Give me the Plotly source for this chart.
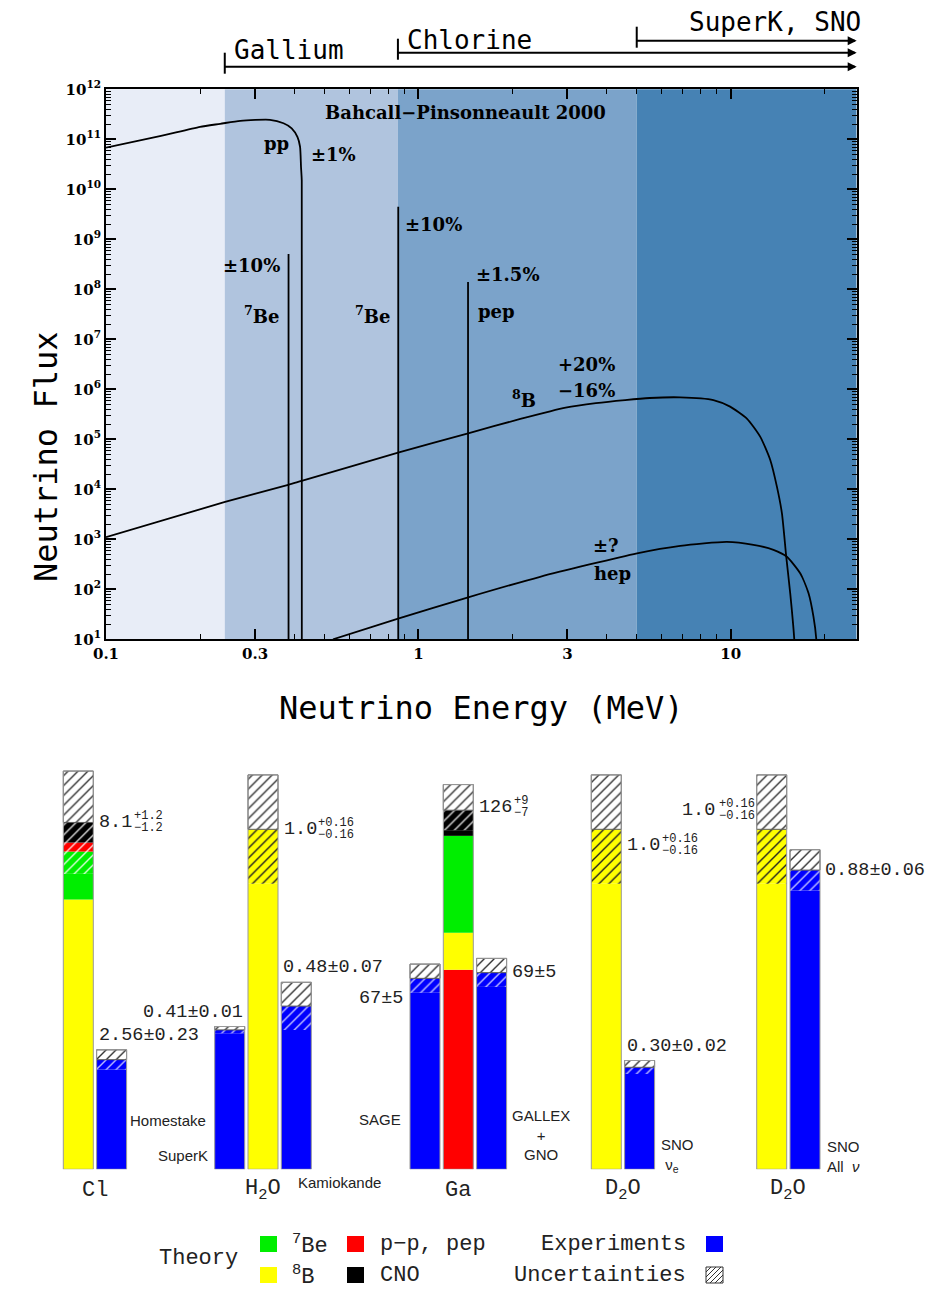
import numpy as np
import plotly.graph_objects as go

# ------------------------------------------------------------------
# DATA
# ------------------------------------------------------------------
# Bahcall-Pinsonneault 2000 solar neutrino spectra (MeV, flux)
pp_energy = [0.100, 0.150, 0.200, 0.232, 0.269, 0.335, 0.370, 0.393, 0.410, 0.418, 0.421, 0.4233, 0.4235]
pp_flux = [6.8e10, 1.17e11, 1.78e11, 2.04e11, 2.34e11, 2.45e11, 2.09e11, 1.66e11, 1.12e11, 7.1e10, 2.8e10, 1.5e10, 3]

b8_energy = [0.100, 0.2405, 0.383, 0.423, 0.861, 1.443, 2.12, 2.96, 3.70, 4.59, 5.50, 6.89, 8.80, 9.95,
             11.26, 12.42, 13.37, 14.05, 14.58, 15.05, 15.50, 15.96, 16.10]
b8_flux = [1.1e3, 5.6e3, 1.23e4, 1.48e4, 5.4e4, 1.32e5, 2.55e5, 4.3e5, 5.3e5, 6.1e5, 6.7e5, 6.9e5, 6.1e5, 4.5e5,
           2.6e5, 1.13e5, 3.9e4, 1.13e4, 3.3e3, 450, 83, 10.5, 3]

hep_energy = [0.533, 0.861, 1.443, 2.453, 5.01, 6.89, 9.72, 11.82, 13.70, 15.12, 16.68, 17.74, 18.40, 18.77, 18.85]
hep_flux = [10, 26, 69, 178, 525, 741, 891, 776, 617, 447, 209, 83, 28, 10.5, 3]

line_names = ["7Be", "7Be", "pep"]
line_energy = [0.384, 0.862, 1.442]
line_flux = [5.1e8, 4.5e9, 1.4e8]

thresholds = [0.24, 0.86, 5.0]
threshold_names = ["Gallium", "Chlorine", "SuperK, SNO"]

x_tick_values = [0.1, 0.3, 1, 3, 10]
x_tick_labels = ["0.1", "0.3", "1", "3", "10"]
y_exponents = list(range(1, 13))

# Bottom panel: theory vs experiment
groups = ["Cl", "H<sub>2</sub>O", "Ga", "D<sub>2</sub>O", "D<sub>2</sub>O"]
group_unit = [7.94, 1.0, 119.3, 1.0, 1.0]          # measured value per unit bar height

cl_parts = ["8B", "7Be", "pp", "CNO"]
cl_values = [6.3, 1.12, 0.21, 0.47]
h2o_parts = ["8B"]
h2o_values = [1.0]
ga_parts = ["pp", "8B", "7Be", "CNO"]
ga_values = [70, 13, 34, 9]
d2o_parts = ["8B"]
d2o_values = [1.0]

theory_err_up = [1.2, 0.16, 9, 0.16, 0.16]
theory_err_dn = [1.2, 0.16, 7, 0.16, 0.16]
theory_labels = ["8.1", "1.0", "126", "1.0", "1.0"]
theory_up_labels = ["+1.2", "+0.16", "+9", "+0.16", "+0.16"]
theory_dn_labels = ["\u22121.2", "\u22120.16", "\u22127", "\u22120.16", "\u22120.16"]

experiments = ["Homestake", "SuperK", "Kamiokande", "SAGE", "GALLEX<br>+<br>GNO",
               "SNO<br> \u03bd<sub>e</sub>", "SNO<br>All  <i>\u03bd</i>"]
exp_group = [0, 1, 1, 2, 2, 3, 4]
exp_value = [2.56, 0.41, 0.48, 67, 69, 0.30, 0.88]
exp_err = [0.23, 0.01, 0.07, 5, 5, 0.02, 0.06]
exp_labels = ["2.56\u00b10.23", "0.41\u00b10.01", "0.48\u00b10.07", "67\u00b15", "69\u00b15",
              "0.30\u00b10.02", "0.88\u00b10.06"]

# ------------------------------------------------------------------
# LAYOUT / STYLE
# ------------------------------------------------------------------
W, H = 926, 1289


def fx(p):
    return p / W


def fy(p):
    return 1 - p / H


X_MIN, X_MAX = 0.1, 25.3
MONO = "Liberation Mono"
TITLE_FONT = "DejaVu Sans Mono"
SERIF = "DejaVu Serif"

band_colors = ["#e8edf7", "#b0c4de", "#7ba3ca", "#4682b4"]
part_color = {"8B": "#ffff00", "7Be": "#00ee00", "pp": "#ff0000", "CNO": "#000000"}
part_hatch = {"8B": "#222222", "7Be": "rgba(255,255,255,0.85)", "pp": "rgba(255,255,255,0.85)",
              "CNO": "rgba(255,255,255,0.85)"}
BLUE = "#0000ff"
OUTLINE = "#999999"

group_x = [78.3, 263.0, 458.3, 606.3, 771.7]   # theory bar centres (panel px units)
slot = 33.3
bar_w = 30
exp_side = [1, -1, 1, -1, 1, 1, 1]

fig = go.Figure()

# ---------------- top panel: spectra ----------------
edges = [X_MIN] + thresholds + [X_MAX]
for i, c in enumerate(band_colors):
    fig.add_shape(type="rect", xref="x", yref="y domain", x0=edges[i], x1=edges[i + 1], y0=0, y1=1,
                  fillcolor=c, line_width=0, layer="below")

curve_line = dict(color="black", width=1.8, shape="spline", smoothing=0.6)
for e, f in [(pp_energy, pp_flux), (b8_energy, b8_flux), (hep_energy, hep_flux)]:
    fig.add_trace(go.Scatter(x=e, y=f, mode="lines", line=curve_line, xaxis="x", yaxis="y",
                             showlegend=False, hoverinfo="skip"))
for e, f in zip(line_energy, line_flux):
    fig.add_trace(go.Scatter(x=[e, e], y=[1, f], mode="lines", line=dict(color="black", width=1.8),
                             xaxis="x", yaxis="y", showlegend=False, hoverinfo="skip"))

minor_x = [0.2, 0.4, 0.5, 0.6, 0.7, 0.8, 0.9, 2, 4, 5, 6, 7, 8, 9, 20]
minor_y = [m * 10 ** k for k in range(1, 12) for m in range(2, 10)]
tickfont = dict(family=SERIF, size=15, color="black", weight="bold")

fig.update_layout(
    template="none",
    width=W, height=H, margin=dict(l=0, r=0, t=0, b=0, pad=0, autoexpand=False),
    paper_bgcolor="white", plot_bgcolor="white", barmode="overlay", showlegend=False,
    xaxis=dict(type="log", domain=[fx(106), fx(856.7)], range=[np.log10(X_MIN), np.log10(X_MAX)],
               anchor="y", automargin=False, tickmode="array", tickvals=x_tick_values,
               ticktext=x_tick_labels,
               ticks="inside", ticklen=10, tickwidth=1.5, tickcolor="black",
               minor=dict(tickmode="array", tickvals=minor_x, ticks="inside", ticklen=5,
                          tickwidth=1.2, tickcolor="black", showgrid=False),
               showline=True, linecolor="black", linewidth=2, mirror="allticks",
               showgrid=False, zeroline=False, tickfont=tickfont),
    yaxis=dict(type="log", domain=[fy(639.3), fy(89.3)], range=[1, 12], anchor="x", automargin=False,
               tickmode="array", tickvals=[10 ** k for k in y_exponents],
               ticktext=[f"10<sup>{k}</sup>" for k in y_exponents],
               ticks="inside", ticklen=10, tickwidth=1.5, tickcolor="black",
               minor=dict(tickmode="array", tickvals=minor_y, ticks="inside", ticklen=5,
                          tickwidth=1, tickcolor="black", showgrid=False),
               showline=True, linecolor="black", linewidth=2, mirror="allticks",
               showgrid=False, zeroline=False, tickfont=tickfont),
    xaxis2=dict(domain=[0, 1], range=[0, W], anchor="y2", visible=False, fixedrange=True,
                automargin=False),
    yaxis2=dict(domain=[fy(1169.3), fy(760)], range=[0, (1169.3 - 760) / 340], anchor="x2",
                visible=False, fixedrange=True, automargin=False),
)

# header brackets
header_levels = [66.7, 52.7, 40.7]
header_text_pos = [(232, 50, "left"), (405, 40, "left"), (863, 22, "right")]
for thr, name, yl, (tx, ty, anc) in zip(thresholds, threshold_names, header_levels, header_text_pos):
    fig.add_shape(type="line", xref="x", yref="paper", x0=thr, x1=thr, y0=fy(yl - 14), y1=fy(yl + 7),
                  line=dict(color="black", width=2))
    fig.add_shape(type="line", xref="x", yref="paper", x0=thr, x1=X_MAX * 0.985, y0=fy(yl), y1=fy(yl),
                  line=dict(color="black", width=2))
    fig.add_annotation(xref="x domain", yref="paper", x=1, y=fy(yl), ax=-10, ay=0, text="",
                       showarrow=True, arrowhead=2, arrowsize=0.9, arrowwidth=2, arrowcolor="black")
    fig.add_annotation(xref="paper", yref="paper", x=fx(tx), y=fy(ty), text=name, showarrow=False,
                       xanchor=anc, yanchor="middle", font=dict(family=TITLE_FONT, size=26, color="black"))

# spectrum annotations
spec_notes = [
    ("Bahcall\u2212Pinsonneault 2000", 465, 113),
    ("pp", 276, 143), ("\u00b11%", 333, 155),
    ("\u00b110%", 251, 266), ("<sup>7</sup>Be", 261, 315),
    ("<sup>7</sup>Be", 372, 315), ("\u00b110%", 433, 225),
    ("\u00b11.5%", 508, 275), ("pep", 496, 311),
    ("+20%", 586, 365), ("\u221216%", 586, 390), ("<sup>8</sup>B", 524, 399),
    ("\u00b1?", 606, 546), ("hep", 612, 573),
]
for t, x, y in spec_notes:
    fig.add_annotation(xref="paper", yref="paper", x=fx(x), y=fy(y), text=t, showarrow=False,
                       xanchor="center", yanchor="middle",
                       font=dict(family=SERIF, size=18, color="black", weight="bold"))

fig.add_annotation(xref="paper", yref="paper", x=fx(25), y=fy(330), text="Neutrino Flux", textangle=-90,
                   showarrow=False, font=dict(family=TITLE_FONT, size=32, color="black"))
fig.add_annotation(xref="paper", yref="paper", x=fx(481), y=fy(708), text="Neutrino Energy (MeV)",
                   showarrow=False, font=dict(family=TITLE_FONT, size=32, color="black"))


# ---------------- bottom panel: bars ----------------
def seg(xc, lo, hi, color, hatch=None, line_color=None):
    marker = dict(color=color, line=dict(width=1 if line_color else 0, color=line_color or color))
    if hatch:
        marker["pattern"] = dict(shape="/", fgcolor=hatch, bgcolor=color, size=7, solidity=0.2,
                                 fillmode="replace")
    fig.add_trace(go.Bar(x=[xc], y=[hi - lo], base=[lo], width=bar_w, marker=marker,
                         xaxis="x2", yaxis="y2", showlegend=False, hoverinfo="skip"))


def outline(xc, lo, hi):
    fig.add_trace(go.Bar(x=[xc], y=[hi - lo], base=[lo], width=bar_w,
                         marker=dict(color="rgba(0,0,0,0)", line=dict(width=1, color=OUTLINE)),
                         xaxis="x2", yaxis="y2", showlegend=False, hoverinfo="skip"))


parts_by_group = [(cl_parts, cl_values), (h2o_parts, h2o_values), (ga_parts, ga_values),
                  (d2o_parts, d2o_values), (d2o_parts, d2o_values)]
theory_central = []
for g, (parts, vals) in enumerate(parts_by_group):
    xc, u = group_x[g], group_unit[g]
    central = sum(vals)
    lower = central - theory_err_dn[g]
    upper = central + theory_err_up[g]
    theory_central.append(central / u)
    a = 0
    for p, v in zip(parts, vals):
        b = a + v
        if a < lower:
            seg(xc, a / u, min(b, lower) / u, part_color[p])
        if b > lower:
            seg(xc, max(a, lower) / u, b / u, part_color[p], part_hatch[p])
        a = b
    seg(xc, central / u, upper / u, "white", "#333333", "#555555")
    outline(xc, 0, upper / u)

exp_x = []
for i, g in enumerate(exp_group):
    xc = group_x[g] + exp_side[i] * slot
    exp_x.append(xc)
    u = group_unit[g]
    v, e = exp_value[i], exp_err[i]
    seg(xc, 0, (v - e) / u, BLUE)
    seg(xc, (v - e) / u, v / u, BLUE, "rgba(255,255,255,0.75)")
    seg(xc, v / u, (v + e) / u, "white", "#333333", "#555555")
    outline(xc, 0, (v + e) / u)

NUM = 18.5
SUP = 12
CW, SCW = 0.6 * NUM, 0.6 * SUP
num_font = dict(family=MONO, size=NUM, color="#222222")
sup_font = dict(family=MONO, size=SUP, color="#222222")

# theory value labels (value with stacked +/- errors)
theory_label_side = ["right", "right", "right", "right", "left"]
theory_label_dy = [0, 0, 3, -16, 19]
for g in range(5):
    y = theory_central[g]
    dy = theory_label_dy[g]
    if theory_label_side[g] == "right":
        x0 = group_x[g] + bar_w / 2 + 4
        xs = x0 + len(theory_labels[g]) * CW + 1
        fig.add_annotation(xref="x2", yref="y2", x=x0, y=y, yshift=dy, text=theory_labels[g],
                           xanchor="left", yanchor="middle", showarrow=False, font=num_font)
        for t, sh in [(theory_up_labels[g], 6), (theory_dn_labels[g], -6)]:
            fig.add_annotation(xref="x2", yref="y2", x=xs, y=y, yshift=dy + sh, text=t,
                               xanchor="left", yanchor="middle", showarrow=False, font=sup_font)
    else:
        xr = group_x[g] - bar_w / 2 - 3
        xm = xr - max(len(theory_up_labels[g]), len(theory_dn_labels[g])) * SCW - 1
        fig.add_annotation(xref="x2", yref="y2", x=xm, y=y, yshift=dy, text=theory_labels[g],
                           xanchor="right", yanchor="middle", showarrow=False, font=num_font)
        for t, sh in [(theory_up_labels[g], 6), (theory_dn_labels[g], -6)]:
            fig.add_annotation(xref="x2", yref="y2", x=xm, y=y, yshift=dy + sh, text=t,
                               xanchor="left", yanchor="middle", showarrow=False, font=sup_font)

# experiment value labels
exp_label_place = ["above-left", "above-right", "above-left", "left", "right", "above-left", "right"]
for i, place in enumerate(exp_label_place):
    g = exp_group[i]
    u = group_unit[g]
    xc = exp_x[i]
    top = (exp_value[i] + exp_err[i]) / u
    mid = exp_value[i] / u
    if place == "above-left":
        kw = dict(x=xc - bar_w / 2, y=top, xanchor="left", yanchor="bottom", yshift=2)
    elif place == "above-right":
        kw = dict(x=xc + bar_w / 2, y=top, xanchor="right", yanchor="bottom", yshift=2)
    elif place == "left":
        kw = dict(x=xc - bar_w / 2 - 5, y=mid, xanchor="right", yanchor="middle", yshift=-20)
    else:
        kw = dict(x=xc + bar_w / 2 + 3, y=mid, xanchor="left", yanchor="middle", yshift=0)
    fig.add_annotation(xref="x2", yref="y2", text=exp_labels[i], showarrow=False, font=num_font, **kw)

# detector names
det_font = dict(family="Liberation Sans", size=15, color="#222222")
det_place = [
    (exp_x[0] + bar_w / 2 + 1, "left", 49),
    (exp_x[1] - bar_w / 2 - 5, "right", 14),
    (exp_x[2], "left", -13),
    (exp_x[3] - bar_w / 2 - 7, "right", 50),
    (exp_x[4] + bar_w / 2 + 34, "center", 34),
    (exp_x[5] + bar_w / 2 + 4, "left", 14),
    (exp_x[6] + bar_w / 2 + 5, "left", 13),
]
for name, (x, anc, dy) in zip(experiments, det_place):
    fig.add_annotation(xref="x2", yref="y2", x=x, y=0, yshift=dy, text=name, showarrow=False,
                       xanchor=anc, yanchor="middle", align=anc if anc != "center" else "center",
                       font=det_font)

# category labels
cat_offset = [0.5, 0, 0, 0.5, 0.5]
for g, name in enumerate(groups):
    fig.add_annotation(xref="x2", yref="y2", x=group_x[g] + cat_offset[g] * slot, y=0, yshift=-21,
                       text=name, showarrow=False, xanchor="center", yanchor="middle",
                       font=dict(family=MONO, size=22, color="#222222"))

# ---------------- legend ----------------
leg_font = dict(family=MONO, size=22, color="#222222")
fig.add_annotation(xref="paper", yref="paper", x=fx(157), y=fy(1258), text="Theory", showarrow=False,
                   xanchor="left", yanchor="middle", font=leg_font)
legend_boxes = [
    (260, 1244, part_color["7Be"], "<sup>7</sup>Be", 290, "left"),
    (260, 1275, part_color["8B"], "<sup>8</sup>B", 290, "left"),
    (347, 1244, part_color["pp"], "p\u2212p, pep", 378, "left"),
    (347, 1275, part_color["CNO"], "CNO", 378, "left"),
    (706, 1244, BLUE, "Experiments", 688, "right"),
]
for bx, by, col, label, lx, anc in legend_boxes:
    fig.add_shape(type="rect", xref="paper", yref="paper", x0=fx(bx), x1=fx(bx + 17),
                  y0=fy(by + 8), y1=fy(by - 8), fillcolor=col, line=dict(width=0))
    fig.add_annotation(xref="paper", yref="paper", x=fx(lx), y=fy(by), text=label, showarrow=False,
                       xanchor=anc, yanchor="middle", font=leg_font)
fig.add_annotation(xref="paper", yref="paper", x=fx(688), y=fy(1275), text="Uncertainties",
                   showarrow=False, xanchor="right", yanchor="middle", font=leg_font)
hx0, hx1, hy0, hy1 = 706, 723, 1267, 1283
fig.add_shape(type="rect", xref="paper", yref="paper", x0=fx(hx0), x1=fx(hx1), y0=fy(hy1), y1=fy(hy0),
              fillcolor="white", line=dict(color="#333333", width=1))
for d in range(5, 34, 5):
    c = hx0 + hy0 + d
    xa, xb = max(hx0, c - hy1), min(hx1, c - hy0)
    fig.add_shape(type="line", xref="paper", yref="paper", x0=fx(xa), y0=fy(c - xa), x1=fx(xb),
                  y1=fy(c - xb), line=dict(color="#333333", width=1))

fig.write_html("out.html")
